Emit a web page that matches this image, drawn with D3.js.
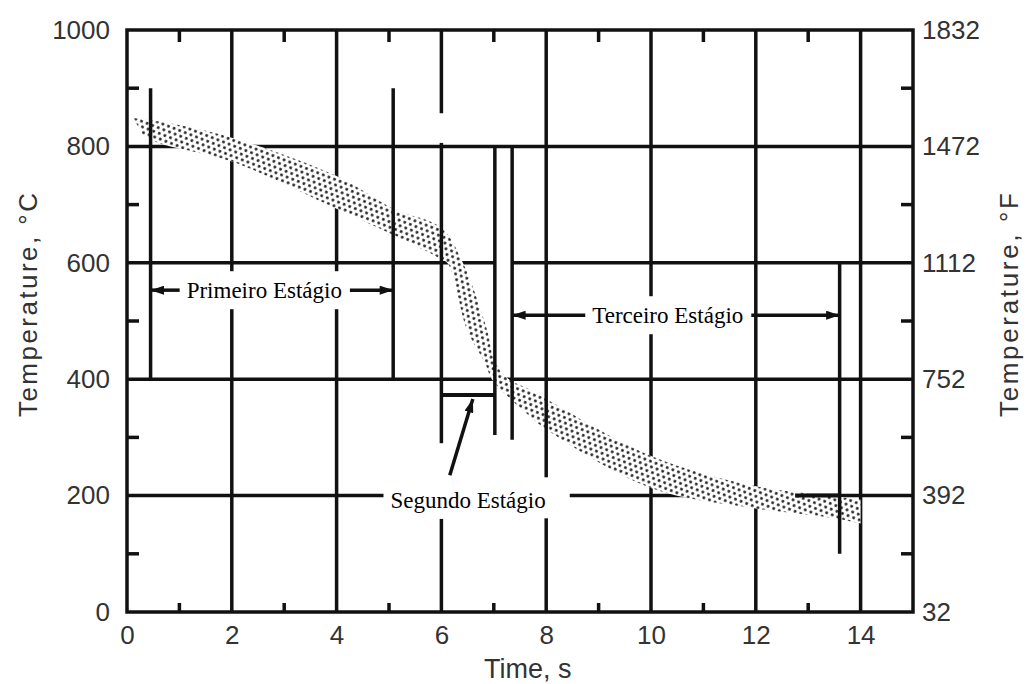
<!DOCTYPE html>
<html>
<head>
<meta charset="utf-8">
<script src="https://cdn.jsdelivr.net/npm/d3@7"></script>
<style>
  body { margin: 0; background: #fff; }
  svg { display: block; }
</style>
</head>
<body>
<svg width="1026" height="684"></svg>
<script>
// axis ticks
const xTicks = [0, 2, 4, 6, 8, 10, 12, 14]
const xMinor = [1, 3, 5, 7, 9, 11, 13]
const yTicksC = [0, 200, 400, 600, 800, 1000]
const yTicksF = [32, 392, 752, 1112, 1472, 1832]
const yMinor = [100, 300, 500, 700, 900]

// cooling band edges, [time s, temp °C]
const bandUpper = [[0.12, 849], [0.6, 843], [2, 815], [4, 749], [5.08, 693], [6, 660], [6.41, 600],
  [6.87, 485], [7.02, 430], [7.27, 401], [7.6, 386], [8, 366], [10, 268], [12, 216], [13.5, 199], [14, 193]]
const bandLower = [[0.3, 820], [0.6, 806], [2, 774], [4, 693], [5.08, 648], [6, 606], [6.13, 598],
  [6.49, 485], [6.83, 428], [6.97, 399], [7.31, 367], [7.6, 343], [8, 314], [10, 213], [12, 178], [13.5, 161], [14, 152]]

// stage boundary lines: time, temp from, temp to
const stageLines = [[0.45, 400, 900], [5.08, 400, 900], [7.02, 304, 800], [7.35, 296, 800], [13.6, 100, 600]]
// extra segments over the band
const extraH = [[12.75, 13.6, 200], [6.0, 7.02, 373]]
// stage labels with arrows: label, t0, t1, temp, label time
const stageArrows = [
  ["Primeiro Estágio", 0.45, 5.08, 553, 2.62],
  ["Terceiro Estágio", 7.35, 13.6, 510, 10.32]
]
const segundo = { label: "Segundo Estágio", t: 6.51, temp: 192, from: [6.16, 235], to: [6.6, 366] }
// gaps in the grid: t0, t1, T0, T1
const gridGaps = [[5.9, 6.1, 160, 290], [5.9, 6.1, 806, 857], [7.02, 7.35, 590, 610]]

var svg = d3.select("svg"),
    pLeft = 127, pRight = 913, pTop = 30, pBottom = 612;

var x = d3.scaleLinear().domain([0, 15]).range([pLeft, pRight]);
var y = d3.scaleLinear().domain([0, 1000]).range([pBottom, pTop]);
var yF = d3.scaleLinear().domain([32, 1832]).range([pBottom, pTop]);

var ink = "#111";
var lw = 3.5;

var defs = svg.append("defs");
var pat = defs.append("pattern")
    .attr("id", "dots")
    .attr("patternUnits", "userSpaceOnUse")
    .attr("width", 6).attr("height", 10)
    .attr("patternTransform", "rotate(21)");
pat.append("circle").attr("cx", 1.5).attr("cy", 2.5).attr("r", 1.45).attr("fill", "#222");
pat.append("circle").attr("cx", 4.5).attr("cy", 7.5).attr("r", 1.45).attr("fill", "#222");

defs.append("marker")
    .attr("id", "arrow")
    .attr("viewBox", "0 0 12 8")
    .attr("refX", 12).attr("refY", 4)
    .attr("markerUnits", "userSpaceOnUse")
    .attr("markerWidth", 14).attr("markerHeight", 9)
    .attr("orient", "auto")
  .append("path").attr("d", "M0,0L12,4L0,8Z").attr("fill", ink);

var g = svg.append("g");

// grid under the band
var vUnder = xTicks.filter(d => d > 0 && d !== 6 && d !== 8);
g.selectAll(".vgrid").data(vUnder).enter().append("line")
    .attr("x1", d => x(d)).attr("x2", d => x(d))
    .attr("y1", pTop).attr("y2", pBottom)
    .attr("stroke", ink).attr("stroke-width", lw);
g.selectAll(".hgrid").data(yTicksC.filter(d => d > 0 && d < 1000)).enter().append("line")
    .attr("x1", pLeft).attr("x2", pRight)
    .attr("y1", d => y(d)).attr("y2", d => y(d))
    .attr("stroke", ink).attr("stroke-width", lw);

// band
var line = d3.line().x(d => x(d[0])).y(d => y(d[1])).curve(d3.curveCatmullRom.alpha(0.5));
var upperPath = line(bandUpper);
var lowerPath = line(bandLower.slice().reverse());
var bandPath = upperPath + "L" + lowerPath.slice(1) + "Z";
g.append("path").attr("d", bandPath).attr("fill", "#fff");
g.append("path").attr("d", bandPath).attr("fill", "url(#dots)");

// grid lines that sit over the band
g.selectAll(".vover").data([6, 8]).enter().append("line")
    .attr("x1", d => x(d)).attr("x2", d => x(d))
    .attr("y1", pTop).attr("y2", pBottom)
    .attr("stroke", ink).attr("stroke-width", lw);

// gaps
g.selectAll(".gap").data(gridGaps).enter().append("rect")
    .attr("x", d => x(d[0])).attr("width", d => x(d[1]) - x(d[0]))
    .attr("y", d => y(d[3])).attr("height", d => y(d[2]) - y(d[3]))
    .attr("fill", "#fff");

// stage labels with white boxes
var labelFont = "'Liberation Serif', 'Times New Roman', serif";
function boxedLabel(text, t, temp, pad) {
  var lg = g.append("g");
  var rect = lg.append("rect").attr("fill", "#fff");
  var txt = lg.append("text")
      .attr("x", x(t)).attr("y", y(temp))
      .attr("dy", "0.35em")
      .attr("text-anchor", "middle")
      .attr("font-family", labelFont)
      .attr("font-size", 23)
      .attr("fill", "#000")
      .text(text);
  var bb = txt.node().getBBox();
  rect.attr("x", bb.x - pad[0]).attr("y", bb.y - pad[1])
      .attr("width", bb.width + pad[0] + pad[2])
      .attr("height", bb.height + pad[1] + pad[3]);
  return bb;
}

stageArrows.forEach(function(d) {
  var bb = boxedLabel(d[0], d[4], d[3], [7, 7, 7, 6]);
  g.append("line")
      .attr("x1", bb.x - 7).attr("x2", x(d[1]))
      .attr("y1", y(d[3])).attr("y2", y(d[3]))
      .attr("stroke", ink).attr("stroke-width", lw)
      .attr("marker-end", "url(#arrow)");
  g.append("line")
      .attr("x1", bb.x + bb.width + 8).attr("x2", x(d[2]))
      .attr("y1", y(d[3])).attr("y2", y(d[3]))
      .attr("stroke", ink).attr("stroke-width", lw)
      .attr("marker-end", "url(#arrow)");
});

boxedLabel(segundo.label, segundo.t, segundo.temp, [7, 11, 24, 5]);

// stage boundary lines
g.selectAll(".stage").data(stageLines).enter().append("line")
    .attr("x1", d => x(d[0])).attr("x2", d => x(d[0]))
    .attr("y1", d => y(d[2])).attr("y2", d => y(d[1]))
    .attr("stroke", ink).attr("stroke-width", lw);
g.selectAll(".extra").data(extraH).enter().append("line")
    .attr("x1", d => x(d[0])).attr("x2", d => x(d[1]))
    .attr("y1", d => y(d[2])).attr("y2", d => y(d[2]))
    .attr("stroke", ink).attr("stroke-width", 4);

// leader for Segundo Estágio
g.append("line")
    .attr("x1", x(segundo.from[0])).attr("y1", y(segundo.from[1]))
    .attr("x2", x(segundo.to[0])).attr("y2", y(segundo.to[1]))
    .attr("stroke", ink).attr("stroke-width", lw)
    .attr("marker-end", "url(#arrow)");

// frame
g.append("rect")
    .attr("x", pLeft).attr("y", pTop)
    .attr("width", pRight - pLeft).attr("height", pBottom - pTop)
    .attr("fill", "none").attr("stroke", ink).attr("stroke-width", 3.5);

// minor ticks
g.selectAll(".mt").data(xMinor).enter().append("line")
    .attr("x1", d => x(d)).attr("x2", d => x(d))
    .attr("y1", pTop).attr("y2", pTop + 12)
    .attr("stroke", ink).attr("stroke-width", lw);
g.selectAll(".mb").data(xMinor).enter().append("line")
    .attr("x1", d => x(d)).attr("x2", d => x(d))
    .attr("y1", pBottom).attr("y2", pBottom - 9)
    .attr("stroke", ink).attr("stroke-width", lw);
g.selectAll(".ml").data(yMinor).enter().append("line")
    .attr("x1", pLeft).attr("x2", pLeft + 12)
    .attr("y1", d => y(d)).attr("y2", d => y(d))
    .attr("stroke", ink).attr("stroke-width", lw);
g.selectAll(".mr").data(yMinor).enter().append("line")
    .attr("x1", pRight).attr("x2", pRight - 12)
    .attr("y1", d => y(d)).attr("y2", d => y(d))
    .attr("stroke", ink).attr("stroke-width", lw);

// axes (labels only)
var axisFont = "'Liberation Sans', Arial, sans-serif";
function styleAxis(sel) {
  sel.select(".domain").remove();
  sel.selectAll("line").remove();
  sel.selectAll("text").attr("font-family", axisFont).attr("font-size", 26).attr("fill", "#333");
}
svg.append("g")
    .attr("transform", "translate(" + pLeft + ",0)")
    .call(d3.axisLeft(y).tickValues(yTicksC).tickSize(0).tickPadding(17).tickFormat(d3.format("d")))
    .call(styleAxis);
svg.append("g")
    .attr("transform", "translate(" + pRight + ",0)")
    .call(d3.axisRight(yF).tickValues(yTicksF).tickSize(0).tickPadding(9).tickFormat(d3.format("d")))
    .call(styleAxis);
svg.append("g")
    .attr("transform", "translate(0," + pBottom + ")")
    .call(d3.axisBottom(x).tickValues(xTicks).tickSize(0).tickPadding(14))
    .call(styleAxis);

svg.append("text")
    .attr("x", x(7.65)).attr("y", 678)
    .attr("text-anchor", "middle")
    .attr("font-family", axisFont).attr("font-size", 27).attr("fill", "#333")
    .text("Time, s");

svg.append("text")
    .attr("transform", "translate(37,305) rotate(-90)")
    .attr("text-anchor", "middle")
    .attr("textLength", 224).attr("lengthAdjust", "spacing")
    .attr("font-family", axisFont).attr("font-size", 26).attr("fill", "#333")
    .text("Temperature, °C");
svg.append("text")
    .attr("transform", "translate(1018,305) rotate(-90)")
    .attr("text-anchor", "middle")
    .attr("textLength", 224).attr("lengthAdjust", "spacing")
    .attr("font-family", axisFont).attr("font-size", 26).attr("fill", "#333")
    .text("Temperature, °F");
</script>
</body>
</html>
